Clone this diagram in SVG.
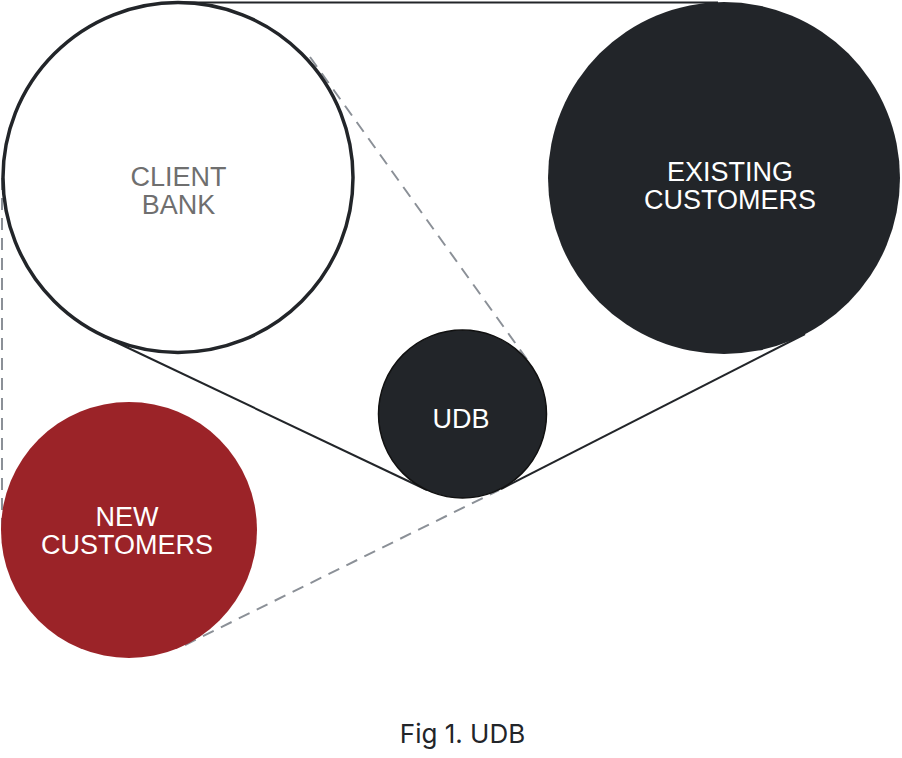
<svg xmlns="http://www.w3.org/2000/svg" width="902" height="758" viewBox="0 0 902 758">
  <style>
    .solid { stroke: #222529; stroke-width: 2; fill: none; }
    .dash { stroke: #8b9097; stroke-width: 2; stroke-dasharray: 12 8; fill: none; }
    .label { font-family: "Liberation Sans", Arial, sans-serif; font-size: 27px; text-anchor: middle; }
    .caption { font-family: Inter, "Liberation Sans", sans-serif; font-size: 26px; text-anchor: middle; fill: #222529; }
  </style>
  <rect width="902" height="758" fill="#ffffff"/>
  <g id="connectors">
    <line class="solid" x1="178" y1="2.5" x2="718" y2="2.5"/>
    <line class="solid" x1="103" y1="336" x2="427" y2="490"/>
    <line class="solid" x1="501" y1="489" x2="805" y2="334"/>
    <line class="dash" x1="310" y1="57" x2="531" y2="365"/>
    <line class="dash" x1="2" y1="178" x2="2" y2="530"/>
    <line class="dash" x1="185" y1="645" x2="499" y2="490"/>
  </g>
  <g id="client-bank">
    <circle cx="178" cy="177.5" r="175" fill="#ffffff" stroke="#222529" stroke-width="3.5"/>
    <text class="label" fill="#6f6f6f"><tspan x="178.5" y="185.5">CLIENT</tspan><tspan x="178.5" y="213.5">BANK</tspan></text>
  </g>
  <g id="existing-customers">
    <circle cx="724" cy="178" r="176" fill="#222529"/>
    <text class="label" fill="#ffffff"><tspan x="730" y="180.5">EXISTING</tspan><tspan x="730" y="208.5">CUSTOMERS</tspan></text>
  </g>
  <g id="udb">
    <circle cx="462.5" cy="414" r="84" fill="#222529" stroke="#111111" stroke-width="1.5"/>
    <text class="label" x="461" y="427.5" fill="#ffffff">UDB</text>
  </g>
  <g id="new-customers">
    <circle cx="129" cy="530" r="128" fill="#9b2328"/>
    <text class="label" fill="#ffffff"><tspan x="127" y="525.5">NEW</tspan><tspan x="127" y="553.5">CUSTOMERS</tspan></text>
  </g>
  <text class="caption" x="462.5" y="743">Fig 1. UDB</text>
</svg>
